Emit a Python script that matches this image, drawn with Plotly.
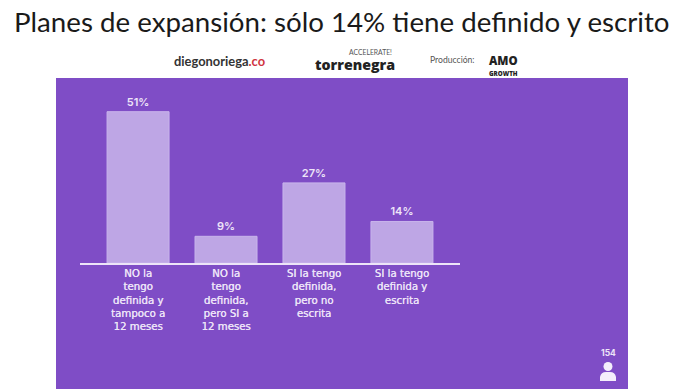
import plotly.graph_objects as go

categories = ["NO la<br>tengo<br>definida y<br>tampoco a<br>12 meses",
              "NO la<br>tengo<br>definida,<br>pero SI a<br>12 meses",
              "SI la tengo<br>definida,<br>pero no<br>escrita",
              "SI la tengo<br>definida y<br>escrita"]
values = [51, 9, 27, 14]
labels = ["51%", "9%", "27%", "14%"]
title_text = "Planes de expansión: sólo 14% tiene definido y escrito"
respondents = "154"

W, H = 696, 389
L, R, T, B = 80, 236, 85, 126
PANEL = "#7F4DC6"
BAR = "#BEA6E5"
TXT = "#EDE4F8"
FONT = "Inter"

def px(x): return (x - L) / (W - L - R)
def py(y): return (H - B - y) / (H - T - B)

fig = go.Figure(go.Bar(
    x=list(range(4)), y=values, width=0.705,
    marker=dict(color=BAR, line=dict(color="#C9B4EC", width=1)),
    text=labels, textposition="outside", cliponaxis=False,
    textfont=dict(family=FONT, size=11, color=TXT, weight=600),
    hoverinfo="skip",
))

def ann(x, y, text, size, color="#333333", family="Lato", weight=None, anchor="center"):
    fig.add_annotation(x=px(x), y=py(y), xref="paper", yref="paper", text=text,
                       showarrow=False, xanchor=anchor, yanchor="middle",
                       font=dict(family=family, size=size, color=color, weight=weight))

ann(342, 21, title_text, 27.7, color="#1a1a1a")
ann(219.5, 61, 'diegonoriega<span style="color:#D0343F">.co</span>', 12.9, weight=700)
ann(370, 52, "ACCELERATE!", 6.8, color="#555555")
ann(355, 65, "torrenegra", 14.2, color="#222222", family="Open Sans", weight=800)
ann(452, 60, "Producción:", 8.6, color="#555555")
ann(503, 61, "AMO", 11.5, color="#222222", family="Open Sans", weight=800)
ann(503, 73, "GROWTH", 6.2, color="#222222", family="Open Sans", weight=800)
ann(608, 353, respondents, 8.5, color=TXT, family=FONT, weight=700)

shapes = [
    dict(type="rect", xref="paper", yref="paper", layer="below",
         x0=px(56), x1=px(628), y0=py(H), y1=py(78), fillcolor=PANEL,
         line=dict(width=0)),
    dict(type="circle", xref="paper", yref="paper", fillcolor="#F4EEFB", line=dict(width=0),
         x0=px(603.5), x1=px(612.5), y0=py(371), y1=py(362)),
    dict(type="path", xref="paper", yref="paper", fillcolor="#F4EEFB", line=dict(width=0),
         path=f"M {px(600)} {py(381)} L {px(600)} {py(377)} Q {px(601)} {py(372)} {px(606)} {py(372)} "
              f"L {px(610)} {py(372)} Q {px(615)} {py(372)} {px(616)} {py(377)} L {px(616)} {py(381)} Z"),
]

fig.update_layout(
    width=W, height=H, autosize=False, showlegend=False,
    paper_bgcolor="white", plot_bgcolor="rgba(0,0,0,0)",
    margin=dict(l=L, r=R, t=T, b=B),
    shapes=shapes,
    xaxis=dict(range=[-0.66, 3.66], tickmode="array", tickvals=list(range(4)), ticktext=categories,
               showgrid=False, zeroline=False, showline=True, linecolor="#EDE4F8", linewidth=1.5,
               ticks="", tickangle=0,
               tickfont=dict(family="DejaVu Sans", size=10.2, color=TXT, weight=500,
                             shadow="0.4px 0 0.3px #EDE4F8")),
    yaxis=dict(range=[0, 60], visible=False, showgrid=False, zeroline=False),
)
fig.write_html("out.html", config={"displayModeBar": False},
               post_script="document.body.style.margin='0';document.body.style.overflow='hidden';")
